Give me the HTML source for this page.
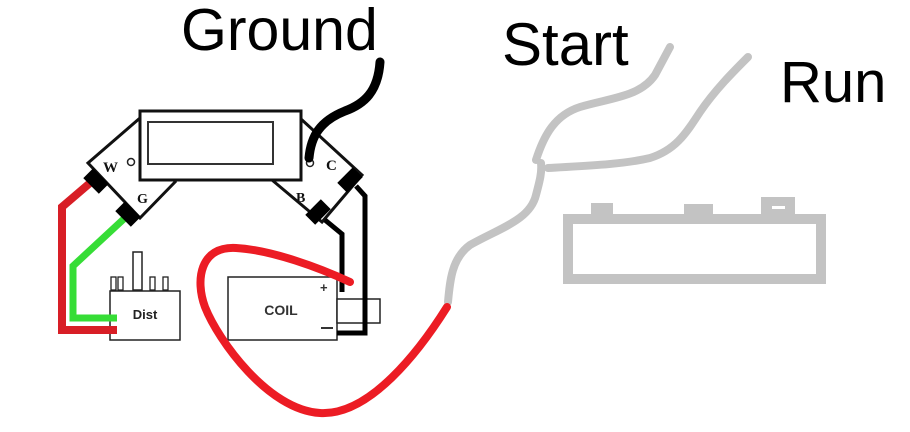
<!DOCTYPE html>
<html>
<head>
<meta charset="utf-8">
<style>
  html, body { margin: 0; padding: 0; background: #fff; }
  svg { display: block; }
</style>
</head>
<body>
<svg width="910" height="432" viewBox="0 0 910 432" xmlns="http://www.w3.org/2000/svg">
  <rect width="910" height="432" fill="#fff"/>

  <!-- Labels -->
  <text x="181" y="50" font-family="Liberation Sans, sans-serif" font-size="59" fill="#000">Ground</text>
  <text x="502" y="65" font-family="Liberation Sans, sans-serif" font-size="60" fill="#000">Start</text>
  <text x="780" y="102" font-family="Liberation Sans, sans-serif" font-size="58" fill="#000">Run</text>

  <!-- Module top box -->
  <rect x="140" y="111" width="161" height="69" fill="#fff" stroke="#111" stroke-width="3"/>
  <rect x="148" y="122" width="125" height="42" fill="none" stroke="#333" stroke-width="2"/>

  <!-- Left diamond -->
  <polyline points="140,118 88,163 140,218 176,181" fill="none" stroke="#111" stroke-width="3" stroke-linejoin="miter"/>
  <!-- Right diamond -->
  <polyline points="301,119 362,175 322,222 272,180" fill="none" stroke="#111" stroke-width="3"/>

  <!-- Wires left -->
  <polyline points="90,183 62,207 62,330 117,330" fill="none" stroke="#d81e26" stroke-width="8" stroke-linejoin="miter"/>
  <polyline points="127,216 73,266 73,318 117,318" fill="none" stroke="#36dd36" stroke-width="7" stroke-linejoin="miter"/>

  <!-- Connector blobs -->
  <rect x="85" y="174" width="22" height="14" fill="#000" transform="rotate(45 96 181)"/>
  <rect x="117" y="207" width="22" height="14" fill="#000" transform="rotate(45 128 214)"/>
  <rect x="339" y="173" width="22" height="14" fill="#000" transform="rotate(-45 350 180)"/>
  <rect x="307" y="205" width="22" height="14" fill="#000" transform="rotate(-45 318 212)"/>

  <!-- Letters -->
  <text x="103" y="172" font-family="Liberation Serif, serif" font-weight="bold" font-size="15" fill="#111">W</text>
  <circle cx="131" cy="162" r="3.5" fill="none" stroke="#222" stroke-width="1.5"/>
  <text x="137" y="203" font-family="Liberation Serif, serif" font-weight="bold" font-size="14" fill="#111">G</text>
  <circle cx="310" cy="163" r="3.5" fill="none" stroke="#222" stroke-width="1.5"/>
  <text x="326" y="170" font-family="Liberation Serif, serif" font-weight="bold" font-size="15" fill="#111">C</text>
  <text x="296" y="202" font-family="Liberation Serif, serif" font-weight="bold" font-size="14" fill="#111">B</text>

  <!-- Distributor -->
  <rect x="133" y="252" width="9" height="38" fill="#fff" stroke="#222" stroke-width="1.5"/>
  <rect x="111" y="277" width="5" height="13" fill="#fff" stroke="#222" stroke-width="1.3"/>
  <rect x="118" y="277" width="5" height="13" fill="#fff" stroke="#222" stroke-width="1.3"/>
  <rect x="150" y="277" width="5" height="13" fill="#fff" stroke="#222" stroke-width="1.3"/>
  <rect x="163" y="277" width="5" height="13" fill="#fff" stroke="#222" stroke-width="1.3"/>
  <rect x="110" y="291" width="70" height="49" fill="#fff" stroke="#222" stroke-width="1.5"/>
  <text x="145" y="319" text-anchor="middle" font-family="Liberation Sans, sans-serif" font-weight="bold" font-size="13" fill="#222">Dist</text>
  <!-- re-draw wire ends over dist box -->
  <line x1="108" y1="330" x2="117" y2="330" stroke="#d81e26" stroke-width="8"/>
  <line x1="108" y1="318" x2="117" y2="318" stroke="#36dd36" stroke-width="7"/>

  <!-- Coil -->
  <rect x="228" y="277" width="109" height="63" fill="#fff" stroke="#222" stroke-width="1.5"/>
  <rect x="337" y="299" width="43" height="24" fill="#fff" stroke="#222" stroke-width="1.5"/>
  <text x="281" y="315" text-anchor="middle" font-family="Liberation Sans, sans-serif" font-weight="bold" font-size="14" fill="#333">COIL</text>
  <text x="320" y="292" font-family="Liberation Sans, sans-serif" font-weight="bold" font-size="13" fill="#333">+</text>
  <line x1="321" y1="328" x2="333" y2="328" stroke="#333" stroke-width="2"/>

  <!-- Black wires right -->
  <polyline points="356,186 365,196 365,333 337,333" fill="none" stroke="#000" stroke-width="5"/>
  <polyline points="325,220 342,234 342,292" fill="none" stroke="#000" stroke-width="5"/>

  <!-- Ground wire -->
  <path d="M380,62 C378,92 364,104 345,111 C320,121 311,136 309,158" fill="none" stroke="#000" stroke-width="9" stroke-linecap="round"/>

  <!-- Gray wires -->
  <g fill="none" stroke="#c3c3c3" stroke-width="8" stroke-linecap="round">
    <path d="M448,302 C450,280 452,258 470,245 C500,228 530,220 536,195 C540,180 542,172 541,163"/>
    <path d="M536,160 C544,135 555,115 580,107 C610,98 640,97 655,75 L670,47"/>
    <path d="M548,168 C580,166 620,165 650,158 C675,150 685,135 700,112 C715,90 733,72 748,57"/>
  </g>

  <!-- Red loop -->
  <path d="M350,282 C320,268 272,250 236,248 C200,246 195,280 205,307 C218,340 268,410 320,413 C370,416 420,350 447,307" fill="none" stroke="#ec1c24" stroke-width="8" stroke-linecap="round"/>

  <!-- Battery -->
  <rect x="568" y="219" width="253" height="60" fill="none" stroke="#c3c3c3" stroke-width="10"/>
  <rect x="591" y="203" width="22" height="13" fill="#c3c3c3"/>
  <rect x="684" y="204" width="29" height="12" fill="#c3c3c3"/>
  <rect x="761" y="197" width="34" height="19" fill="#c3c3c3"/>
  <rect x="772" y="206" width="13" height="3" fill="#fff"/>
</svg>
</body>
</html>
